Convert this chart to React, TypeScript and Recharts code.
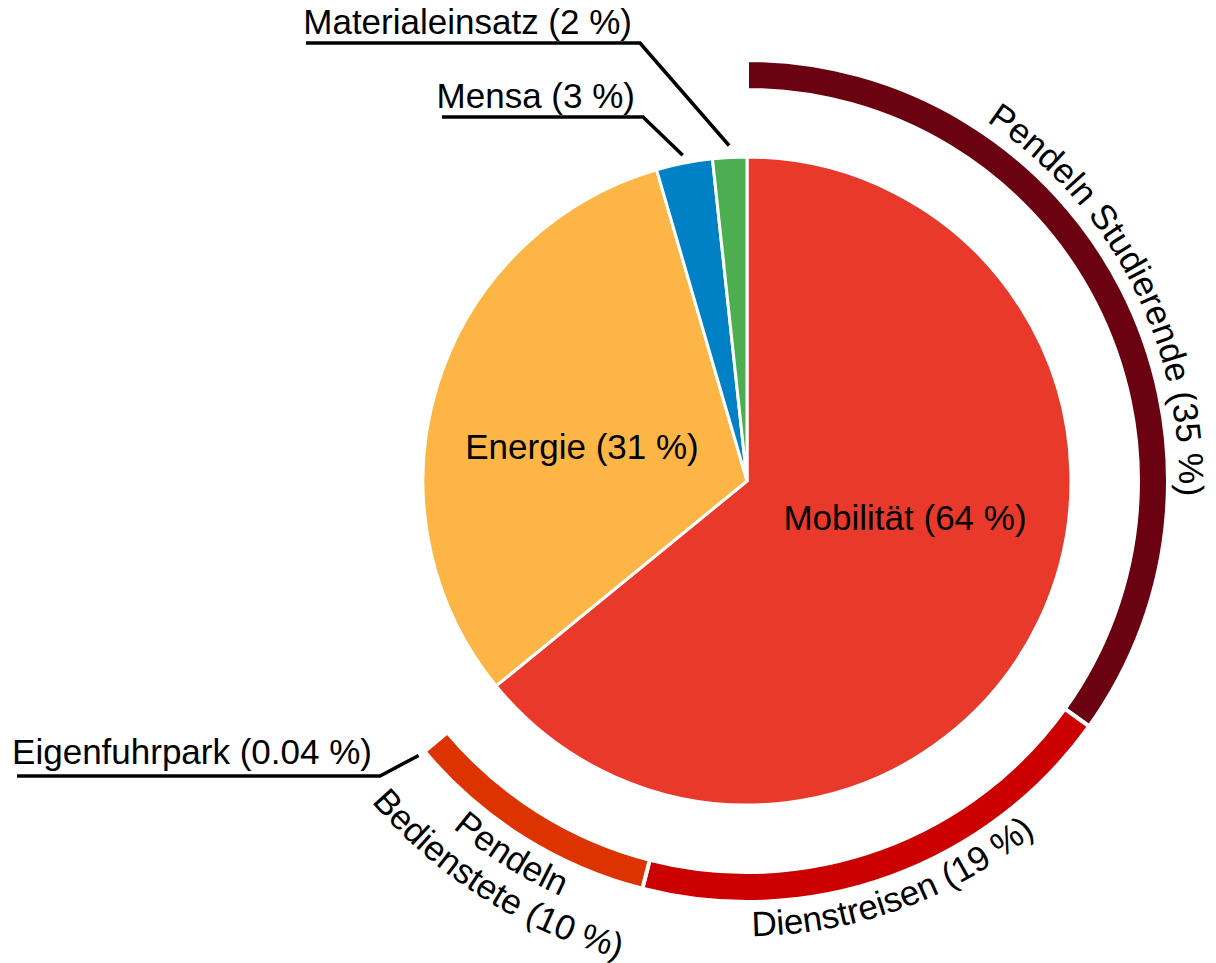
import React from "react";
import { Cell, Pie, PieChart } from "recharts";

// inner pie: main categories (share of total, %)
const innerNames = ["Mobilität", "Energie", "Mensa", "Materialeinsatz"];
const innerValues = [64.1, 31.4, 2.8, 1.7];
const innerColors = ["#E8392A", "#FDB645", "#0081C6", "#4CAE50"];

// outer ring: breakdown of Mobilität; last entry is the empty rest of the circle
const ringNames = ["Pendeln Studierende", "Dienstreisen", "Pendeln Bedienstete", "Eigenfuhrpark", ""];
const ringValues = [34.9, 19.1, 9.9, 0.04, 36.06];
const ringColors = ["#6B0211", "#CC0000", "#DD3300", "#DD3300", "none"];

const innerData = innerNames.map((name, i) => ({ name, value: innerValues[i] }));
const ringData = ringNames.map((name, i) => ({ name, value: ringValues[i] }));

const FONT = "'Liberation Sans', Arial, sans-serif";
const FONT_SIZE = 35;
const RAD = Math.PI / 180;

const CX = 747;
const CY = 481;

type LabelLayout =
  | { kind: "inside"; dx: number; dy: number }
  | { kind: "callout"; gap: number; elbow: [number, number]; underline: number; textGap: number }
  | { kind: "arc"; radii: number[]; dir: "cw" | "ccw"; wrap?: boolean };

const labelLayout: Record<string, LabelLayout> = {
  Mobilität: { kind: "inside", dx: 158, dy: 49 },
  Energie: { kind: "inside", dx: -165, dy: -22 },
  Mensa: { kind: "callout", gap: 8, elbow: [-104, -364], underline: 201, textGap: 9 },
  Materialeinsatz: { kind: "callout", gap: 12, elbow: [-107, -438], underline: 334, textGap: 9 },
  "Pendeln Studierende": { kind: "arc", radii: [432], dir: "cw" },
  Dienstreisen: { kind: "arc", radii: [455], dir: "ccw" },
  "Pendeln Bedienstete": { kind: "arc", radii: [455, 494], dir: "ccw", wrap: true },
  Eigenfuhrpark: { kind: "callout", gap: 7, elbow: [-367, 295], underline: 363, textGap: 12 },
};

const fmtPct = (v: number) => (v < 1 ? v.toFixed(2) : String(Math.round(v)));

const polar = (cx: number, cy: number, r: number, a: number): [number, number] => [
  cx + r * Math.cos(-a * RAD),
  cy + r * Math.sin(-a * RAD),
];

function arcPath(cx: number, cy: number, r: number, mid: number, dir: "cw" | "ccw") {
  const span = 55;
  if (dir === "cw") {
    const [x1, y1] = polar(cx, cy, r, mid + span);
    const [x2, y2] = polar(cx, cy, r, mid - span);
    return `M ${x1} ${y1} A ${r} ${r} 0 0 1 ${x2} ${y2}`;
  }
  const [x1, y1] = polar(cx, cy, r, mid - span);
  const [x2, y2] = polar(cx, cy, r, mid + span);
  return `M ${x1} ${y1} A ${r} ${r} 0 0 0 ${x2} ${y2}`;
}

function renderLabel(names: string[], values: number[], prefix: string) {
  return (props: any) => {
    const { cx, cy, midAngle, outerRadius, index } = props;
    const name = names[index];
    const layout = labelLayout[name];
    if (!layout) return null;
    const text = `${name} (${fmtPct(values[index])} %)`;
    const textProps = { fontFamily: FONT, fontSize: FONT_SIZE, fill: "#000" };

    if (layout.kind === "inside") {
      return (
        <text x={cx + layout.dx} y={cy + layout.dy} textAnchor="middle" {...textProps}>
          {text}
        </text>
      );
    }

    if (layout.kind === "callout") {
      const [tx, ty] = polar(cx, cy, outerRadius + layout.gap, midAngle);
      const ex = cx + layout.elbow[0];
      const ey = cy + layout.elbow[1];
      return (
        <g>
          <path
            d={`M ${tx} ${ty} L ${ex} ${ey} L ${ex - layout.underline} ${ey}`}
            stroke="#000"
            strokeWidth={3.5}
            fill="none"
          />
          <text x={ex - 8} y={ey - layout.textGap} textAnchor="end" {...textProps}>
            {text}
          </text>
        </g>
      );
    }

    const lines = layout.wrap
      ? [name.split(" ")[0], `${name.split(" ").slice(1).join(" ")} (${fmtPct(values[index])} %)`]
      : [text];
    return (
      <g>
        {lines.map((line, li) => {
          const id = `${prefix}-arc-${index}-${li}`;
          return (
            <g key={id}>
              <path id={id} d={arcPath(cx, cy, layout.radii[li], midAngle, layout.dir)} fill="none" stroke="none" />
              <text {...textProps}>
                <textPath href={`#${id}`} startOffset="50%" textAnchor="middle">
                  {line}
                </textPath>
              </text>
            </g>
          );
        })}
      </g>
    );
  };
}

export default function App() {
  return (
    <div style={{ position: "absolute", left: 0, top: 0, width: 1216, height: 963, background: "#fff" }}>
      <PieChart width={1216} height={963} margin={{ top: 0, right: 0, bottom: 0, left: 0 }}>
        <Pie
          data={innerData}
          dataKey="value"
          nameKey="name"
          cx={CX}
          cy={CY}
          innerRadius={0}
          outerRadius={324}
          startAngle={90}
          endAngle={-270}
          stroke="#fff"
          strokeWidth={3}
          label={renderLabel(innerNames, innerValues, "inner")}
          labelLine={false}
          isAnimationActive={false}
        >
          {innerData.map((d, i) => (
            <Cell key={d.name} fill={innerColors[i]} />
          ))}
        </Pie>
        <Pie
          data={ringData}
          dataKey="value"
          nameKey="name"
          cx={CX}
          cy={CY}
          innerRadius={391}
          outerRadius={421}
          startAngle={90}
          endAngle={-270}
          label={renderLabel(ringNames, ringValues, "ring")}
          labelLine={false}
          isAnimationActive={false}
        >
          {ringData.map((d, i) => (
            <Cell
              key={`ring-${i}`}
              fill={ringColors[i]}
              stroke={ringColors[i] === "none" ? "none" : "#fff"}
              strokeWidth={4}
            />
          ))}
        </Pie>
      </PieChart>
    </div>
  );
}
